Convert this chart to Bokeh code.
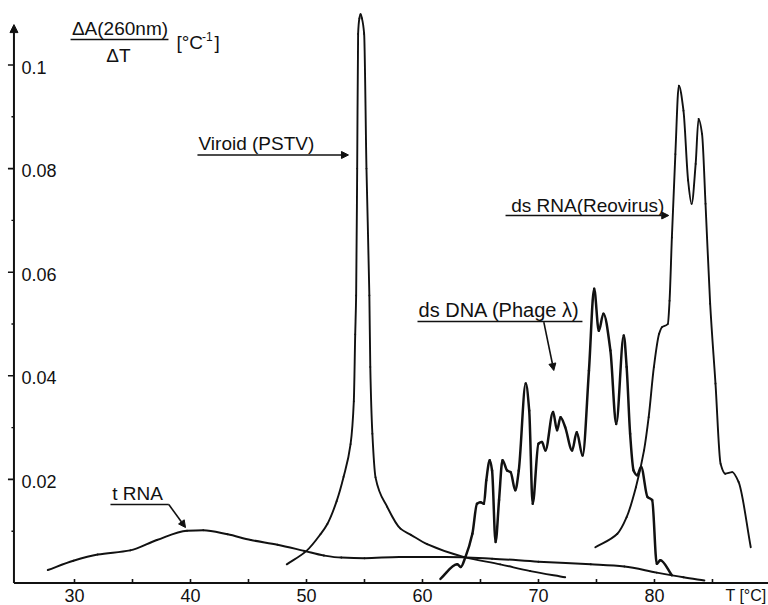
import numpy as np
from bokeh.plotting import figure
from bokeh.models import Range1d, Arrow, NormalHead
from bokeh.core.properties import value
from bokeh.embed import file_html
from bokeh.resources import INLINE

# ---------------- data ----------------
trna_T = [27.7, 29.9, 32.0, 34.8, 37.1, 39.7, 41.1, 43.2, 45.2, 47.5, 49.8, 51.5,
          53.0, 55.0, 58.0, 62.0, 66.0, 70.0, 74.5, 77.4, 80.2, 82.5, 84.3]
trna_v = [0.0025, 0.0043, 0.0055, 0.0063, 0.0083, 0.0101, 0.0102, 0.0094, 0.0083,
          0.0074, 0.0062, 0.0053, 0.0049, 0.0048, 0.0050, 0.0050, 0.0047, 0.0041,
          0.0036, 0.0032, 0.0020, 0.0011, 0.0005]

viroid_T = [48.3, 50.0, 51.2, 51.8, 52.6, 53.2, 53.8, 54.08, 54.2, 54.28, 54.37, 54.45,
            54.56, 54.66, 54.78, 54.97, 55.17, 55.42, 55.5, 55.68, 55.95, 56.96, 58.1,
            59.0, 60.4, 63.6, 66.7, 69.3, 72.3]
viroid_v = [0.0036, 0.0062, 0.0094, 0.0114, 0.0158, 0.0205, 0.0268, 0.0351, 0.0480,
            0.0555, 0.0800, 0.1060, 0.1090, 0.1098, 0.1090, 0.1060, 0.0800, 0.0555,
            0.0417, 0.0288, 0.0204, 0.0147, 0.0105, 0.0093, 0.0075, 0.0050, 0.0036,
            0.0023, 0.0011]

dna_T = [61.55, 63.0, 63.3, 63.7, 64.3, 64.7, 65.0, 65.3, 65.5, 65.8, 66.0, 66.3, 66.6,
         66.9, 67.3, 67.6, 68.0, 68.3, 68.9, 69.2, 69.5, 70.0, 70.3, 70.6, 71.26, 71.6,
         71.9, 72.3, 72.9, 73.3, 73.8, 74.35, 74.8, 75.2, 75.6, 76.2, 76.7, 77.35, 77.6,
         77.9, 78.2, 78.5, 78.85, 79.4, 79.8, 80.2, 80.5, 81.5]
dna_v = [0.0008, 0.0036, 0.0031, 0.0050, 0.0095, 0.0153, 0.0156, 0.0153, 0.0198, 0.0237,
         0.0217, 0.0079, 0.0160, 0.0237, 0.0217, 0.0214, 0.0179, 0.0217, 0.0385, 0.0333,
         0.0153, 0.0269, 0.0272, 0.0256, 0.0330, 0.0295, 0.0320, 0.0301, 0.0256, 0.0291,
         0.0246, 0.0410, 0.0568, 0.0487, 0.0520, 0.0449, 0.0307, 0.0478, 0.0417, 0.0288,
         0.0217, 0.0208, 0.0224, 0.0166, 0.0160, 0.0037, 0.0044, 0.0015]

rna_T = [74.9, 76.8, 77.6, 78.4, 79.1, 79.5, 79.95, 80.4, 80.65, 81.15, 81.3, 81.5, 81.8,
         82.1, 82.5, 82.9, 83.2, 83.55, 83.8, 84.1, 84.4, 84.8, 85.26, 85.7, 86.1, 86.7,
         87.25, 88.3]
rna_v = [0.0069, 0.0095, 0.0127, 0.0185, 0.0256, 0.0320, 0.0417, 0.0481, 0.0494, 0.0500,
         0.0545, 0.0667, 0.0828, 0.0960, 0.0912, 0.0777, 0.0732, 0.0809, 0.0896, 0.0867,
         0.0732, 0.0539, 0.0385, 0.0230, 0.0211, 0.0214, 0.0195, 0.0069]

x_major_ticks = [30, 35, 40, 45, 50, 55, 60, 65, 70, 75, 80, 85]
x_tick_labels = ["30", "40", "50", "60", "70", "80"]
y_major_ticks = [0.02, 0.04, 0.06, 0.08, 0.1]
y_tick_labels = ["0.02", "0.04", "0.06", "0.08", "0.1"]
y_minor_ticks = [0.01, 0.03, 0.05, 0.07, 0.09]

# ---------------- figure ----------------
W, H = 768, 605
X_START, X_END = 23.62, 89.83          # data range covering the full canvas
Y_START, Y_END = -0.004344, 0.112452
DX = (X_END - X_START) / W              # data units per pixel
DY = (Y_END - Y_START) / H
T_AXIS = 24.78                          # where the vertical axis sits

FONT = "Liberation Sans"
INK = "#111111"

p = figure(width=W, height=H, x_range=Range1d(X_START, X_END),
           y_range=Range1d(Y_START, Y_END), toolbar_location=None, tools="",
           output_backend="svg", min_border=0)
p.xaxis.visible = False
p.yaxis.visible = False
p.xgrid.visible = False
p.ygrid.visible = False
p.outline_line_color = None
p.background_fill_color = "white"
p.border_fill_color = "white"


def smooth_curve(xs, ys, width):
    """Draw a curve through the read points as monotone cubic (PCHIP) bezier pieces."""
    x = np.asarray(xs, float)
    y = np.asarray(ys, float)
    h = np.diff(x)
    d = np.diff(y) / h
    m = np.zeros_like(x)
    m[0], m[-1] = d[0], d[-1]
    for k in range(1, len(x) - 1):
        if d[k - 1] * d[k] > 0:
            w1 = 2 * h[k] + h[k - 1]
            w2 = h[k] + 2 * h[k - 1]
            m[k] = (w1 + w2) / (w1 / d[k - 1] + w2 / d[k])
    p.bezier(x0=x[:-1], y0=y[:-1], x1=x[1:], y1=y[1:],
             cx0=x[:-1] + h / 3, cy0=y[:-1] + m[:-1] * h / 3,
             cx1=x[1:] - h / 3, cy1=y[1:] - m[1:] * h / 3,
             line_color=INK, line_width=width, line_cap="round")


# curves
smooth_curve(trna_T, trna_v, 2.0)
smooth_curve(viroid_T, viroid_v, 1.9)
smooth_curve(dna_T, dna_v, 2.5)
smooth_curve(rna_T, rna_v, 1.9)

# axes (drawn by hand, positioned through the plot's scales)
p.line([T_AXIS, X_END], [0, 0], line_color=INK, line_width=2)
p.add_layout(Arrow(end=NormalHead(size=8, fill_color=INK, line_color=INK),
                   x_start=T_AXIS, y_start=0, x_end=T_AXIS, y_end=0.1078,
                   line_color=INK, line_width=2))
p.segment(x0=x_major_ticks, y0=[0] * len(x_major_ticks),
          x1=x_major_ticks, y1=[4 * DY] * len(x_major_ticks),
          line_color=INK, line_width=1.6)
p.segment(x0=[T_AXIS - 6 * DX] * len(y_major_ticks), y0=y_major_ticks,
          x1=[T_AXIS] * len(y_major_ticks), y1=y_major_ticks,
          line_color=INK, line_width=1.6)
p.segment(x0=[T_AXIS - 2.5 * DX] * len(y_minor_ticks), y0=y_minor_ticks,
          x1=[T_AXIS] * len(y_minor_ticks), y1=y_minor_ticks,
          line_color=INK, line_width=1.4)


def label(x, y, txt, size="19px", align="left"):
    p.text(x=[x], y=[y], text=[txt], text_font=value(FONT), text_font_size=value(size),
           text_align=align, text_baseline="middle", text_color=INK)


# tick labels
X_LABEL_Y = -0.0025
p.text(x=[float(t) for t in x_tick_labels], y=[X_LABEL_Y] * len(x_tick_labels),
       text=x_tick_labels, text_font=value(FONT), text_font_size=value("18px"),
       text_align="center", text_baseline="middle", text_color=INK)
p.text(x=[T_AXIS + 7.5 * DX] * len(y_major_ticks), y=y_major_ticks, text=y_tick_labels,
       y_offset=2, text_font=value(FONT), text_font_size=value("18px"),
       text_align="left", text_baseline="middle", text_color=INK)
label(86.12, X_LABEL_Y, "T [°C]", size="16px")

# y-axis title: fraction  ΔA(260nm)/ΔT  [°C-1]
label(33.92, 0.10709, "ΔA(260nm)", align="center")
p.line([29.66, 38.10], [0.10492, 0.10492], line_color=INK, line_width=1.6)
label(33.79, 0.10183, "ΔT", align="center")
label(38.79, 0.10425, "[°C")
label(41.0, 0.10554, "-1", size="12px")
label(42.07, 0.10425, "]")


# curve labels with pointer arrows
def head():
    return NormalHead(size=7, fill_color=INK, line_color=INK)


# Viroid (PSTV)
label(40.69, 0.08475, "Viroid (PSTV)")
p.add_layout(Arrow(end=head(), x_start=40.60, y_start=0.08263, x_end=53.62,
                   y_end=0.08263, line_color=INK, line_width=1.6))

# ds RNA (Reovirus)
label(67.65, 0.07288, "ds RNA(Reovirus)")
p.add_layout(Arrow(end=head(), x_start=67.16, y_start=0.07095, x_end=81.23,
                   y_end=0.07095, line_color=INK, line_width=1.6))

# ds DNA (Phage λ)
label(59.66, 0.05261, "ds DNA (Phage λ)", size="20px")
p.line([59.57, 73.79], [0.05048, 0.05048], line_color=INK, line_width=1.6)
p.add_layout(Arrow(end=head(), x_start=70.46, y_start=0.05035, x_end=71.32,
                   y_end=0.04102, line_color=INK, line_width=1.6))

# t RNA
label(33.25, 0.01728, "t RNA")
p.line([33.10, 38.13], [0.01515, 0.01515], line_color=INK, line_width=1.6)
p.add_layout(Arrow(end=head(), x_start=38.13, y_start=0.01515, x_end=39.57,
                   y_end=0.01071, line_color=INK, line_width=1.6))

open("out.html", "w").write(file_html(p, INLINE))
